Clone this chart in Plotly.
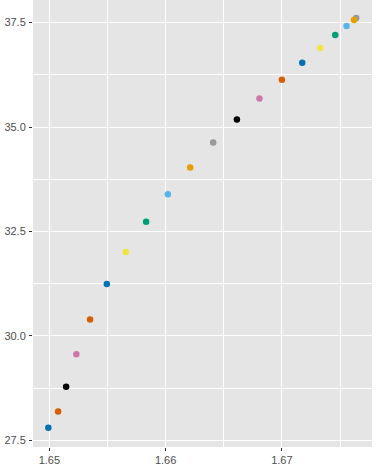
import plotly.graph_objects as go

# values
x_vals = [1.64991, 1.65075, 1.65144, 1.65232, 1.65350, 1.65494, 1.65657, 1.65832,
          1.66019, 1.66211, 1.66409, 1.66613, 1.66807, 1.67000, 1.67175, 1.67330,
          1.67459, 1.67556, 1.67639, 1.67620]
y_vals = [27.80, 28.19, 28.78, 29.56, 30.39, 31.24, 32.01, 32.73,
          33.39, 34.03, 34.63, 35.18, 35.68, 36.13, 36.54, 36.89,
          37.20, 37.42, 37.61, 37.56]
point_colors = ["#0072B2", "#D55E00", "#000000", "#CC79A7", "#D55E00", "#0072B2", "#F0E442", "#009E73",
                "#56B4E9", "#E69F00", "#999999", "#000000", "#CC79A7", "#D55E00", "#0072B2", "#F0E442",
                "#009E73", "#56B4E9", "#999999", "#E69F00"]

x_ticks = [1.65, 1.66, 1.67]
y_ticks = [27.5, 30.0, 32.5, 35.0, 37.5]

fig = go.Figure(go.Scatter(
    x=x_vals, y=y_vals, mode="markers",
    marker=dict(color=point_colors, size=6.5, line=dict(width=0)),
    showlegend=False, hoverinfo="x+y"
))

axis_common = dict(
    showgrid=True, gridcolor="white", gridwidth=1.1,
    zeroline=False, showline=False, automargin=False,
    ticks="outside", ticklen=3, tickwidth=1, tickcolor="#333333",
    tickfont=dict(family="Liberation Sans, Arial", size=11, color="#4d4d4d"),
    minor=dict(showgrid=True, gridcolor="white", gridwidth=0.5),
)

fig.update_xaxes(range=[1.64859, 1.67775], tickvals=x_ticks,
                 ticktext=[f"{v:.2f}" for v in x_ticks], ticklabelstandoff=0, **axis_common)
fig.update_yaxes(range=[27.34, 38.04], tickvals=y_ticks,
                 ticktext=[f"{v:.1f}" for v in y_ticks], ticklabelstandoff=1, **axis_common)
fig.update_xaxes(minor_tickvals=[1.645, 1.655, 1.665, 1.675], minor_ticks="")
fig.update_yaxes(minor_tickvals=[28.75, 31.25, 33.75, 36.25], minor_ticks="")

fig.update_layout(
    width=382, height=466,
    margin=dict(l=33, r=10, t=0, b=19, autoexpand=False),
    plot_bgcolor="#E5E5E5", paper_bgcolor="white",
)

# the page's body has a default 8px margin; drop it so the figure sits at the corner
fig.write_html("out.html", config={"displayModeBar": False},
               post_script="document.body.style.margin='0';")
